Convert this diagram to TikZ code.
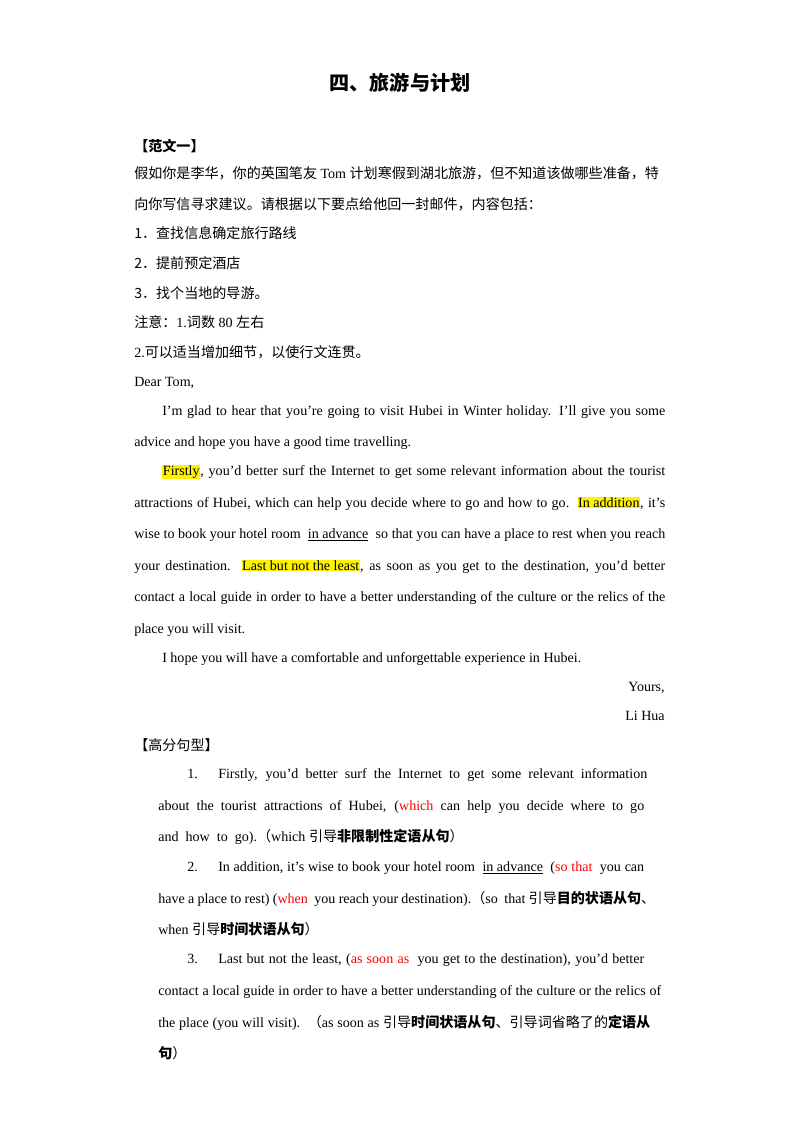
\documentclass[tikz,border=0pt]{standalone}
\usepackage{fontspec}
\setmainfont{Liberation Serif}
\newfontfamily\zhfont{Noto Sans CJK SC}
\newcommand{\zh}[1]{{\zhfont #1}}
\newlength\pxu \setlength\pxu{0.02625cm}
\newcommand{\jl}[2]{\makebox[#1\pxu][s]{#2}}
\newcommand{\hl}[1]{{\setlength\fboxsep{0.5pt}\colorbox{yellow}{#1}}}
\newcommand{\rd}[1]{\textcolor{red}{#1}}

\begin{document}
\begin{tikzpicture}[x=0.02625cm, y=-0.02625cm,
    every node/.style={inner sep=0pt, font=\fontsize{10.5}{12}\selectfont},
    line/.style={anchor=base west},
    rline/.style={anchor=base east}]
    \useasboundingbox (0,0) rectangle (800,1132);

    % title
    \node[anchor=base, font=\fontsize{15}{18}\selectfont] (title) at (400,90) {\zh{\bfseries 四、旅游与计划}};

    % task
    \node[line] (h1) at (134,151) {\zh{\bfseries 【范文一】}};
    \node[line] (t1) at (134,178) {\zh{假如你是李华，你的英国笔友}~Tom~\zh{计划寒假到湖北旅游，但不知道该做哪些准备，特}};
    \node[line] (t2) at (134,209) {\zh{向你写信寻求建议。请根据以下要点给他回一封邮件，内容包括：}};
    \node[line] (t3) at (134,238) {\zh{1．查找信息确定旅行路线}};
    \node[line] (t4) at (134,268) {\zh{2．提前预定酒店}};
    \node[line] (t5) at (134,298) {\zh{3．找个当地的导游。}};
    \node[line] (t6) at (134,327) {\zh{注意：}1.\zh{词数} 80 \zh{左右}};
    \node[line] (t7) at (134,357) {2.\zh{可以适当增加细节，以使行文连贯。}};

    % letter
    \node[line] (l0) at (134,386) {Dear Tom,};
    \node[line] (l1) at (162,415) {\jl{503}{I’m glad to hear that you’re going to visit Hubei in Winter holiday. I’ll give you some}};
    \node[line] (l2) at (134,446) {advice and hope you have a good time travelling.};
    \node[line] (l3) at (162,475) {\jl{503}{\hl{Firstly}, you’d better surf the Internet to get some relevant information about the tourist}};
    \node[line] (l4) at (134,507) {\jl{531}{attractions of Hubei, which can help you decide where to go and how to go.\ \ \hl{In addition}, it’s}};
    \node[line] (l5) at (134,538) {\jl{531}{wise to book your hotel room \ \underline{in advance} \ so that you can have a place to rest when you reach}};
    \node[line] (l6) at (134,570) {\jl{531}{your destination.\ \ \hl{Last but not the least}, as soon as you get to the destination, you’d better}};
    \node[line] (l7) at (134,601) {\jl{531}{contact a local guide in order to have a better understanding of the culture or the relics of the}};
    \node[line] (l8) at (134,633) {place you will visit.};
    \node[line] (l9) at (162,662) {I hope you will have a comfortable and unforgettable experience in Hubei.};
    \node[rline] (l10) at (665,691) {Yours,};
    \node[rline] (l11) at (665,720) {Li Hua};

    % sentences
    \node[line] (h2) at (134,750) {\zh{【高分句型】}};
    \node[line] (n1) at (187,778) {1.};
    \node[line] (s1) at (218,778) {\jl{429}{Firstly, you’d better surf the Internet to get some relevant information}};
    \node[line] (s2) at (158,810) {\jl{486}{about the tourist attractions of Hubei, (\rd{which} can help you decide where to go}};
    \node[line] (s3) at (158,841) {and\ \ how\ \ to\ \ go).\zh{（}which \zh{引导\bfseries 非限制性定语从句}\zh{）}};
    \node[line] (n2) at (187,871) {2.};
    \node[line] (s4) at (218,871) {\jl{426}{In addition, it’s wise to book your hotel room \ \underline{in advance} \ (\rd{so that} \ you can}};
    \node[line] (s5) at (158,903) {\jl{497}{have a place to rest) (\rd{when} \ you reach your destination).\zh{（}so\ \ that \zh{引导\bfseries 目的状语从句}\zh{、}}};
    \node[line] (s6) at (158,934) {when \zh{引导\bfseries 时间状语从句}\zh{）}};
    \node[line] (n3) at (187,963) {3.};
    \node[line] (s7) at (218,963) {\jl{426}{Last but not the least, (\rd{as soon as} \ you get to the destination), you’d better}};
    \node[line] (s8) at (158,995) {\jl{503}{contact a local guide in order to have a better understanding of the culture or the relics of}};
    \node[line] (s9) at (158,1027) {\jl{492}{the place (you will visit).\ \ \zh{（}as soon as \zh{引导\textbf{时间状语从句}、引导词省略了的\textbf{定语从}}}};
    \node[line] (s10) at (158,1058) {\zh{\textbf{句}）}};
\end{tikzpicture}
\end{document}
